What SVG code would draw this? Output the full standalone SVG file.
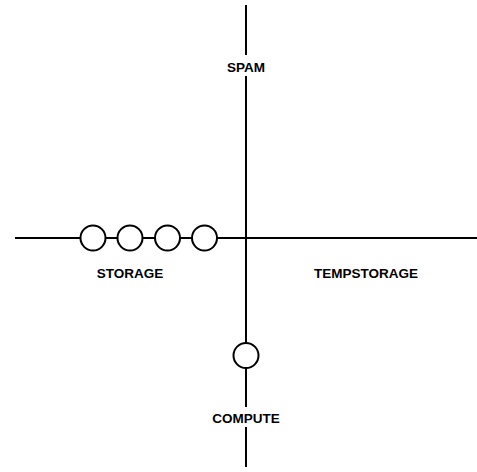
<svg xmlns="http://www.w3.org/2000/svg" width="477" height="472" viewBox="0 0 477 472">
<style>
.ln{stroke:#000;stroke-width:2;fill:none}
.nd{stroke:#000;stroke-width:2;fill:#fff}
.lb{font-family:"Liberation Sans",Arial,sans-serif;font-weight:bold;font-size:13.5px;fill:#000;text-anchor:middle}
</style>
<rect width="477" height="472" fill="#fff"/>
<g id="connectors">
<line class="ln" x1="246" y1="5" x2="246" y2="55"/>
<line class="ln" x1="246" y1="76" x2="246" y2="407"/>
<line class="ln" x1="246" y1="427" x2="246" y2="467"/>
<line class="ln" x1="15" y1="238" x2="477" y2="238"/>
</g>
<g id="spam"><text class="lb" x="246" y="72">SPAM</text></g>
<g id="storage">
<circle class="nd" cx="93" cy="238" r="12.5"/>
<circle class="nd" cx="130" cy="238" r="12.5"/>
<circle class="nd" cx="167.5" cy="238" r="12.5"/>
<circle class="nd" cx="204.5" cy="238" r="12.5"/>
<text class="lb" x="130" y="278">STORAGE</text>
</g>
<g id="tempstorage"><text class="lb" x="366" y="278">TEMPSTORAGE</text></g>
<g id="compute">
<circle class="nd" cx="246" cy="355.5" r="12.5"/>
<text class="lb" x="246" y="423">COMPUTE</text>
</g>
</svg>
